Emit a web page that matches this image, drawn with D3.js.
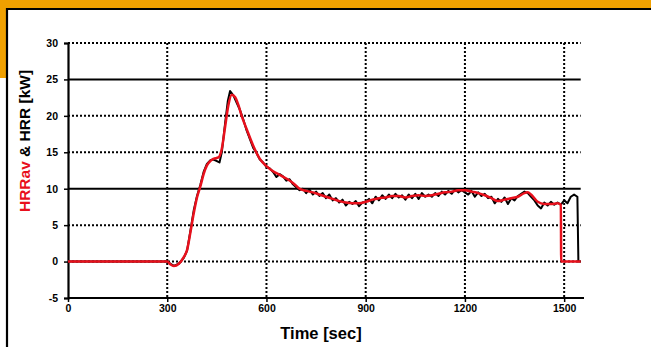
<!DOCTYPE html>
<html>
<head>
<meta charset="utf-8">
<script src="https://cdn.jsdelivr.net/npm/d3@7"></script>
<style>
  body { margin: 0; background: #fff; }
  svg { display: block; font-family: "Liberation Sans", Arial, sans-serif; }
</style>
</head>
<body>
<svg id="chart" width="651" height="347"></svg>
<script>
// HRR (black, raw) and HRRav (red, averaged) in kW vs time in seconds
var hrrTime = [0, 300, 310, 320, 335, 350, 360, 370, 380, 390, 400, 410, 420, 430, 440, 450, 458, 465, 475, 483, 490, 500, 510, 520, 530, 540, 550, 560, 570, 580, 590, 600, 610, 620, 630, 640, 650, 660, 670, 680, 690, 700, 710, 720, 730, 740, 750, 760, 770, 780, 790, 800, 810, 820, 830, 840, 850, 860, 870, 880, 890, 900, 910, 920, 930, 940, 950, 960, 970, 980, 990, 1000, 1010, 1020, 1030, 1040, 1050, 1060, 1070, 1080, 1090, 1100, 1110, 1120, 1130, 1140, 1150, 1160, 1170, 1180, 1190, 1200, 1210, 1220, 1230, 1240, 1250, 1260, 1270, 1280, 1290, 1300, 1310, 1320, 1330, 1340, 1350, 1360, 1370, 1380, 1390, 1400, 1410, 1420, 1430, 1440, 1450, 1460, 1470, 1480, 1490, 1500, 1510, 1520, 1530, 1540, 1543, 1550];
var hrrVal = [0, 0, -0.3, -0.6, -0.3, 0.5, 1.5, 4.2, 7.0, 9.0, 10.5, 12.3, 13.4, 13.9, 14.0, 13.8, 13.6, 15.0, 19.0, 22.0, 23.4, 22.8, 21.8, 20.8, 19.5, 18.0, 16.8, 15.6, 14.9, 14.0, 13.6, 13.0, 12.8, 12.3, 11.6, 12.0, 11.7, 11.1, 11.3, 10.6, 10.2, 9.8, 10.0, 9.4, 9.9, 9.2, 9.6, 9.0, 9.4, 8.7, 9.2, 8.4, 8.7, 8.1, 8.5, 7.7, 8.2, 7.9, 8.3, 7.6, 8.1, 8.2, 8.6, 8.0, 8.9, 8.4, 9.1, 8.6, 9.2, 8.7, 9.3, 8.8, 9.1, 8.5, 9.2, 8.7, 9.3, 8.6, 9.4, 8.9, 9.2, 8.9, 9.4, 9.0, 9.6, 9.2, 9.7, 9.3, 9.9, 9.5, 9.8, 9.5, 9.2, 9.7, 8.9, 9.5, 9.0, 9.3, 8.7, 8.9, 8.0, 8.6, 8.2, 8.8, 7.9, 8.7, 8.4, 9.0, 9.3, 9.6, 9.4, 8.9, 8.4, 7.7, 7.3, 8.1, 7.7, 8.2, 7.8, 8.1, 7.8, 8.4, 8.0, 8.9, 9.2, 8.9, 0, 0];

var avTime = [0, 300, 310, 320, 335, 350, 360, 370, 380, 390, 400, 410, 420, 430, 440, 455, 465, 475, 485, 495, 505, 515, 525, 540, 560, 580, 600, 620, 640, 660, 680, 700, 720, 740, 760, 780, 800, 820, 840, 860, 880, 900, 920, 940, 960, 980, 1000, 1020, 1040, 1060, 1080, 1100, 1120, 1140, 1160, 1180, 1200, 1220, 1240, 1260, 1280, 1300, 1320, 1340, 1360, 1380, 1390, 1400, 1420, 1440, 1460, 1480, 1490, 1491, 1550];
var avVal = [0, 0, -0.4, -0.6, -0.3, 0.6, 1.6, 4.0, 6.6, 8.8, 10.3, 12.0, 13.2, 13.8, 14.1, 14.3, 15.5, 18.5, 21.5, 22.9, 22.6, 21.5, 20.0, 18.2, 15.9, 14.1, 13.1, 12.4, 11.9, 11.4, 10.8, 10.0, 9.7, 9.5, 9.2, 8.9, 8.6, 8.3, 8.1, 8.0, 8.0, 8.2, 8.5, 8.7, 8.8, 9.0, 9.0, 8.8, 9.0, 9.1, 9.0, 9.1, 9.3, 9.5, 9.6, 9.8, 9.8, 9.6, 9.4, 9.1, 8.7, 8.3, 8.5, 8.7, 8.9, 9.4, 9.5, 9.2, 8.2, 7.9, 7.9, 8.0, 7.8, 0, 0];

var xTicks = [0, 300, 600, 900, 1200, 1500];
var yTicks = [-5, 0, 5, 10, 15, 20, 25, 30];
var solidGrid = [10, 25];
var dottedGrid = [0, 5, 15, 20, 30];

var svg = d3.select('#chart');

// frame: orange background strips and black border
svg.append('rect').attr('x', 0).attr('y', 0).attr('width', 651).attr('height', 9).attr('fill', '#f0a000');
svg.append('rect').attr('x', 0).attr('y', 0).attr('width', 7).attr('height', 78).attr('fill', '#f0a000');
svg.append('path').attr('d', 'M7,347V9H651').attr('fill', 'none').attr('stroke', '#000').attr('stroke-width', 2.2);

var x = d3.scaleLinear().domain([0, 1550]).range([68, 580.7]);
var y = d3.scaleLinear().domain([-5, 30]).range([298, 43]);

// grid
svg.selectAll('.vgrid').data(xTicks.slice(1)).enter().append('line')
    .attr('x1', d => x(d)).attr('x2', d => x(d))
    .attr('y1', y(30)).attr('y2', y(-5))
    .attr('stroke', '#000').attr('stroke-width', 2).attr('stroke-dasharray', '2,2');
svg.selectAll('.hgrid').data(dottedGrid).enter().append('line')
    .attr('x1', x(0)).attr('x2', x(1550))
    .attr('y1', d => y(d)).attr('y2', d => y(d))
    .attr('stroke', '#000').attr('stroke-width', 2).attr('stroke-dasharray', '2,2');
svg.selectAll('.sgrid').data(solidGrid).enter().append('line')
    .attr('x1', x(0)).attr('x2', x(1550))
    .attr('y1', d => y(d)).attr('y2', d => y(d))
    .attr('stroke', '#000').attr('stroke-width', 2);

// axes
var fmt = d => String(d);
var yAxis = svg.append('g')
    .attr('transform', `translate(${x(0)},0)`)
    .call(d3.axisLeft(y).tickValues(yTicks).tickFormat(fmt).tickSize(4).tickPadding(6));
var xAxis = svg.append('g')
    .attr('transform', `translate(0,${y(-5)})`)
    .call(d3.axisBottom(x).tickValues(xTicks).tickFormat(fmt).tickSize(4).tickPadding(3).tickSizeOuter(0));
xAxis.select('.domain').attr('d', `M${x(0)},0H584`);
[xAxis, yAxis].forEach(g => {
    g.select('.domain').attr('stroke-width', 2.2);
    g.selectAll('.tick line').attr('stroke-width', 1.5);
    g.selectAll('text').attr('font-size', 10.5).attr('font-weight', 'bold')
        .attr('font-family', '"Liberation Sans", Arial, sans-serif').attr('fill', '#000');
});

// lines
var lineGen = d3.line().x(d => x(d[0])).y(d => y(d[1]));
svg.append('path')
    .datum(d3.zip(hrrTime, hrrVal))
    .attr('d', lineGen)
    .attr('fill', 'none').attr('stroke', '#000').attr('stroke-width', 2).attr('stroke-linejoin', 'round');
svg.append('path')
    .datum(d3.zip(avTime, avVal))
    .attr('d', d3.line().x(d => x(d[0])).y(d => y(d[1])).curve(d3.curveMonotoneX))
    .attr('fill', 'none').attr('stroke', '#e8101c').attr('stroke-width', 2.5).attr('stroke-linejoin', 'round');

// titles
svg.append('text')
    .attr('x', 321).attr('y', 339)
    .attr('text-anchor', 'middle')
    .attr('font-size', 16.5).attr('font-weight', 'bold')
    .text('Time [sec]');

var yTitle = svg.append('text')
    .attr('transform', 'translate(30,141) rotate(-90)')
    .attr('text-anchor', 'middle')
    .attr('font-size', 15.5).attr('font-weight', 'bold');
yTitle.append('tspan').attr('fill', '#e8101c').text('HRRav');
yTitle.append('tspan').attr('fill', '#000').text(' & HRR [kW]');
</script>
</body>
</html>
